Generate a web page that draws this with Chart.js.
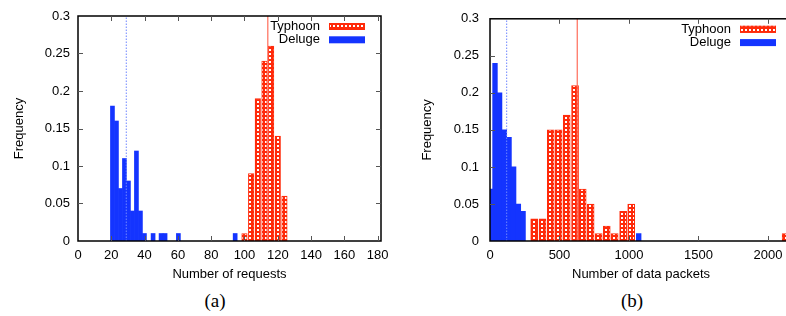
<!DOCTYPE html>
<html lang="en">
<head>
<meta charset="utf-8"/>
<title>Typhoon vs Deluge</title>
<style>
    html, body { margin: 0; padding: 0; overflow: hidden; background: #fff; }
    body { width: 786px; height: 316px; position: relative; }
    .panel { position: absolute; top: 0; }
    #left { left: 0; }
    #right { left: 400px; }
    .caption {
        position: absolute;
        top: 291px;
        line-height: 20px;
        font-family: "Liberation Serif", "DejaVu Serif", serif;
        font-size: 19px;
        transform: translateX(-50%);
    }
</style>
</head>
<body>
<div class="panel" id="left"><canvas id="reqChart" width="400" height="286"></canvas></div>
<div class="panel" id="right"><canvas id="pktChart" width="392" height="286"></canvas></div>
<div class="caption" style="left:215px">(a)</div>
<div class="caption" style="left:632px">(b)</div>

<script src="https://cdn.jsdelivr.net/npm/chart.js@4.4.0/dist/chart.umd.min.js"></script>
<script>
    // (a) number of requests
    const reqDelugeX = [20.7, 23.1, 25.5, 27.9, 30.3, 32.7, 35.1, 37.5, 39.9, 45.1, 49.9, 52.3, 60.3, 94.4];
    const reqDelugeFreq = [0.18, 0.16, 0.07, 0.11, 0.08, 0.04, 0.12, 0.04, 0.01, 0.01, 0.01, 0.01, 0.01, 0.01];
    const reqTyphoonX = [100, 104, 108, 112, 116, 120, 124];
    const reqTyphoonFreq = [0.01, 0.09, 0.19, 0.24, 0.26, 0.14, 0.06];
    const reqTyphoonMean = 114;
    const reqDelugeMean = 29;
    const reqTicks = [0, 20, 40, 60, 80, 100, 120, 140, 160, 180];

    // (b) number of data packets
    const pktDelugeX = [2, 36, 69, 103, 137, 170, 204, 238, 1070];
    const pktDelugeFreq = [0.07, 0.24, 0.20, 0.15, 0.14, 0.10, 0.05, 0.04, 0.01];
    const pktTyphoonX = [318, 378, 437, 494, 552, 612, 667, 724, 782, 840, 897, 958, 1016, 2127];
    const pktTyphoonFreq = [0.03, 0.03, 0.15, 0.15, 0.17, 0.21, 0.07, 0.05, 0.01, 0.02, 0.01, 0.04, 0.05, 0.01];
    const pktTyphoonMean = 628;
    const pktDelugeMean = 120;
    const pktTicks = [0, 500, 1000, 1500, 2000];

    const freqTicks = [0, 0.05, 0.1, 0.15, 0.2, 0.25, 0.3];
    const freqMax = 0.3;

    const RED = "#ff2a0a";
    const BLUE = "#1434ff";

    Chart.defaults.font.family = '"Liberation Sans", Arial, sans-serif';
    Chart.defaults.font.size = 13;
    Chart.defaults.color = "#000";

    // red crosshatch like gnuplot's pattern fill
    function makeHatch() {
        const c = document.createElement("canvas");
        c.width = 4;
        c.height = 4;
        const g = c.getContext("2d");
        g.fillStyle = RED;
        g.fillRect(0, 0, 4, 4);
        g.fillStyle = "#fff";
        g.fillRect(1, 1, 2, 2);
        return g.createPattern(c, "repeat");
    }
    const hatch = makeHatch();

    function toPoints(xs, ys) {
        return xs.map((x, i) => ({ x: x, y: ys[i] }));
    }

    function fixedTicks(values) {
        return function (scale) {
            scale.ticks = values.map(v => ({ value: v }));
        };
    }

    // border box, inward ticks and the small legend in the top right corner
    const framePlugin = {
        id: "frame",
        afterDraw(chart) {
            const { ctx, chartArea: a } = chart;
            const x = chart.scales.x, y = chart.scales.y;
            ctx.save();
            ctx.strokeStyle = "#000";
            ctx.lineWidth = 1.5;
            ctx.strokeRect(a.left, a.top, a.right - a.left, a.bottom - a.top);

            ctx.strokeStyle = "#555";
            ctx.lineWidth = 1;
            ctx.beginPath();
            x.ticks.forEach(t => {
                const px = Math.round(x.getPixelForValue(t.value)) + 0.5;
                if (px <= a.left + 2 || px >= a.right - 2) return;
                ctx.moveTo(px, a.bottom); ctx.lineTo(px, a.bottom - 5);
                ctx.moveTo(px, a.top); ctx.lineTo(px, a.top + 5);
            });
            y.ticks.forEach(t => {
                const py = Math.round(y.getPixelForValue(t.value)) + 0.5;
                if (py <= a.top + 2 || py >= a.bottom - 2) return;
                ctx.moveTo(a.left, py); ctx.lineTo(a.left + 5, py);
                ctx.moveTo(a.right, py); ctx.lineTo(a.right - 5, py);
            });
            ctx.stroke();

            // legend
            const bars = chart.data.datasets.filter(d => d.type === "bar");
            ctx.font = '13px "Liberation Sans", Arial, sans-serif';
            ctx.textAlign = "right";
            ctx.textBaseline = "middle";
            bars.forEach((d, i) => {
                const cy = a.top + 10.5 + i * 13.3;
                ctx.fillStyle = "#000";
                ctx.fillText(d.label, a.right - 61, cy);
                ctx.fillStyle = d.backgroundColor;
                ctx.fillRect(a.right - 52, cy - 3.5, 36, 7);
                if (d.borderWidth) {
                    ctx.strokeStyle = d.borderColor;
                    ctx.strokeRect(a.right - 51.5, cy - 3, 35, 6);
                }
            });
            ctx.restore();
        }
    };

    function buildChart(canvasId, opts) {
        const ctx = document.getElementById(canvasId).getContext("2d");
        return new Chart(ctx, {
            type: "bar",
            data: {
                datasets: [
                    {
                        type: "line",
                        data: [{ x: opts.delMean, y: 0 }, { x: opts.delMean, y: freqMax }],
                        borderColor: "#6f86ff",
                        borderWidth: 1,
                        borderDash: [1.5, 1.5],
                        pointRadius: 0,
                        order: 0
                    },
                    {
                        type: "line",
                        data: [{ x: opts.typMean, y: 0 }, { x: opts.typMean, y: freqMax }],
                        borderColor: "rgba(255, 105, 85, 0.9)",
                        borderWidth: 1.3,
                        pointRadius: 0,
                        order: 1
                    },
                    {
                        type: "bar",
                        label: "Typhoon",
                        data: toPoints(opts.typX, opts.typY),
                        backgroundColor: hatch,
                        borderColor: RED,
                        borderWidth: 1,
                        barThickness: opts.typWidth,
                        grouped: false,
                        order: 2
                    },
                    {
                        type: "bar",
                        label: "Deluge",
                        data: toPoints(opts.delX, opts.delY),
                        backgroundColor: BLUE,
                        borderWidth: 0,
                        barThickness: opts.delWidth,
                        grouped: false,
                        order: 3
                    }
                ]
            },
            options: {
                responsive: false,
                animation: false,
                layout: { padding: { top: 16, left: opts.padLeft, right: opts.padRight, bottom: 0 } },
                plugins: {
                    legend: { display: false },
                    tooltip: { enabled: false }
                },
                scales: {
                    x: {
                        type: "linear",
                        min: 0,
                        max: opts.xMax,
                        offset: false,
                        grid: { display: false, drawTicks: false },
                        border: { display: false },
                        ticks: { padding: 7, maxRotation: 0, autoSkip: false, callback: v => String(v) },
                        afterBuildTicks: fixedTicks(opts.xTicks),
                        title: { display: true, text: opts.xTitle, padding: { top: 4, bottom: 4 } },
                        afterFit(scale) { scale.height = 45; }
                    },
                    y: {
                        min: 0,
                        max: freqMax,
                        grid: { display: false, drawTicks: false },
                        border: { display: false },
                        ticks: { padding: opts.yPad, callback: v => String(v) },
                        afterBuildTicks: fixedTicks(freqTicks),
                        title: { display: true, text: "Frequency", padding: { top: 4, bottom: 4 } },
                        afterFit(scale) { scale.width = opts.yWidth; }
                    }
                }
            },
            plugins: [framePlugin]
        });
    }

    buildChart("reqChart", {
        typX: reqTyphoonX, typY: reqTyphoonFreq, typMean: reqTyphoonMean, typWidth: 5.5,
        delX: reqDelugeX, delY: reqDelugeFreq, delMean: reqDelugeMean, delWidth: 4,
        xMax: 182, xTicks: reqTicks, xTitle: "Number of requests",
        padLeft: 8, padRight: 19, yWidth: 70, yPad: 8
    });

    buildChart("pktChart", {
        typX: pktTyphoonX, typY: pktTyphoonFreq, typMean: pktTyphoonMean, typWidth: 7,
        delX: pktDelugeX, delY: pktDelugeFreq, delMean: pktDelugeMean, delWidth: 4.7,
        xMax: 2173, xTicks: pktTicks, xTitle: "Number of data packets",
        padLeft: 16, padRight: 0, yWidth: 74, yPad: 11
    });
</script>
</body>
</html>
